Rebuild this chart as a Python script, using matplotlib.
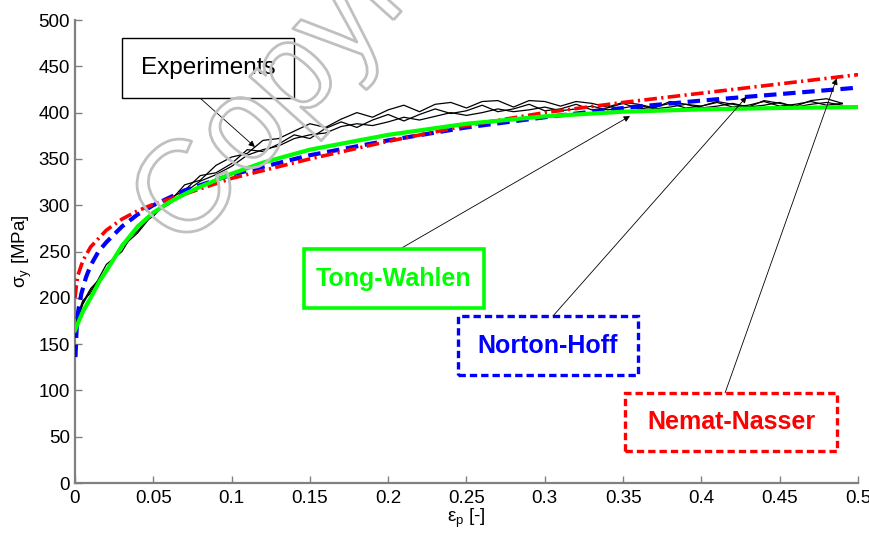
import matplotlib
matplotlib.use("Agg")
import matplotlib.pyplot as plt
from matplotlib.patches import Rectangle
import matplotlib.patheffects as pe
from matplotlib import font_manager

names = {f.name for f in font_manager.fontManager.ttflist}
tick_font = 'Liberation Sans Narrow' if 'Liberation Sans Narrow' in names else 'Liberation Sans'

plt.rcParams['font.family'] = ['Liberation Sans', 'DejaVu Sans']
plt.rcParams['mathtext.fontset'] = 'custom'
plt.rcParams['mathtext.rm'] = tick_font
plt.rcParams['mathtext.it'] = tick_font

# ---------------- data ----------------
exp_x = [0.0, 0.002, 0.005, 0.01, 0.02, 0.03, 0.04, 0.05, 0.06, 0.07, 0.08, 0.09,
         0.10, 0.11, 0.12, 0.13, 0.14, 0.15, 0.16, 0.17, 0.18, 0.19, 0.20, 0.21,
         0.22, 0.23, 0.24, 0.25, 0.26, 0.27, 0.28, 0.29, 0.30, 0.31, 0.32, 0.33,
         0.34, 0.35, 0.36, 0.37, 0.38, 0.39, 0.40, 0.41, 0.42, 0.43, 0.44, 0.45,
         0.46, 0.47, 0.48, 0.49]
exp1 = [168, 180, 195, 210, 228, 258, 272, 293, 303, 322, 327, 343,
        352, 356, 370, 372, 380, 388, 384, 393, 400, 395, 403, 408,
        401, 409, 411, 405, 412, 413, 406, 413, 412, 407, 412, 410,
        406, 411, 409, 405, 412, 409, 407, 412, 409, 406, 413, 410,
        407, 413, 415, 410]
exp2 = [172, 183, 197, 205, 236, 250, 278, 288, 307, 316, 332, 335,
        345, 360, 358, 366, 376, 372, 383, 390, 384, 392, 398, 391,
        398, 404, 399, 402, 408, 401, 404, 409, 402, 404, 409, 403,
        405, 410, 404, 406, 410, 405, 407, 411, 406, 408, 412, 407,
        409, 412, 408, 410]
exp3 = [166, 178, 193, 208, 230, 255, 270, 291, 301, 314, 326, 333,
        342, 354, 360, 364, 372, 376, 378, 385, 388, 386, 390, 395,
        392, 396, 400, 397, 400, 404, 401, 403, 406, 402, 404, 407,
        403, 405, 408, 404, 406, 409, 405, 407, 410, 406, 408, 411,
        406, 409, 411, 408]

tw_x = [0.0, 0.002, 0.005, 0.01, 0.016, 0.02, 0.03, 0.04, 0.05, 0.06, 0.07,
        0.08, 0.10, 0.12, 0.15, 0.20, 0.25, 0.30, 0.35, 0.40, 0.45, 0.50]
tw_y = [165, 173, 185, 200, 219, 229, 256, 277, 292, 303, 312,
        320, 334, 346, 360, 376, 388, 396, 401, 403.5, 405, 406]

nh_x = [0.0003, 0.001, 0.002, 0.004, 0.007, 0.01, 0.015, 0.02, 0.03, 0.04,
        0.05, 0.07, 0.10, 0.15, 0.20, 0.25, 0.30, 0.35, 0.40, 0.45, 0.50]
nh_y = [136, 165, 185, 204, 222, 235, 250, 260, 277, 290,
        300, 316, 333, 354, 370, 384, 395, 405, 413, 420, 427]

nn_x = [0.0, 0.001, 0.002, 0.005, 0.01, 0.02, 0.03, 0.04, 0.05, 0.07, 0.10,
        0.15, 0.20, 0.25, 0.30, 0.35, 0.40, 0.45, 0.50]
nn_y = [200, 215, 225, 240, 255, 273, 285, 294, 301, 312, 329,
        350, 369, 386, 400, 411, 421, 431, 441]

xticks = [0, 0.05, 0.1, 0.15, 0.2, 0.25, 0.3, 0.35, 0.4, 0.45, 0.5]
xtick_labels = ['0', '0.05', '0.1', '0.15', '0.2', '0.25', '0.3', '0.35', '0.4', '0.45', '0.5']
yticks = [0, 50, 100, 150, 200, 250, 300, 350, 400, 450, 500]

# ---------------- figure ----------------
fig = plt.figure(figsize=(8.7, 5.34), dpi=100)
ax = fig.add_axes([0.0862, 0.0955, 0.9, 0.867])

for ey in (exp1, exp2, exp3):
    ax.plot(exp_x, ey, color='black', lw=0.9, zorder=2)

ax.plot(tw_x, tw_y, color='#00ff00', lw=3.0, zorder=4)
ax.plot(nh_x, nh_y, color='#0000ff', lw=3.0, ls=(0, (3, 1.6)), zorder=3)
ax.plot(nn_x, nn_y, color='#ff0000', lw=2.6, ls=(0, (3.5, 1.2, 0.6, 1.2)), zorder=3)

ax.set_xlim(0, 0.5)
ax.set_ylim(0, 500)
ax.set_xticks(xticks)
ax.set_xticklabels(xtick_labels)
ax.set_yticks(yticks)

for s in ('top', 'right'):
    ax.spines[s].set_visible(False)
for s in ('left', 'bottom'):
    ax.spines[s].set_color('#808080')
    ax.spines[s].set_linewidth(1.6)
ax.tick_params(direction='in', length=5, width=1, color='#808080',
               labelsize=13.5, labelcolor='black')
ax.tick_params(axis='x', pad=5)
for lab in ax.get_xticklabels() + ax.get_yticklabels():
    lab.set_family(tick_font)

ax.set_xlabel(r'$\mathregular{\epsilon_p}$ [-]', fontsize=13.5, labelpad=0,
              family=tick_font)
ax.set_ylabel(r'$\mathregular{\sigma_y}$ [MPa]', fontsize=13.5, labelpad=3,
              family=tick_font)

# ---------------- annotation boxes ----------------
def box(x0, x1, y0, y1, text, color, ls, lw, bold, fs):
    r = Rectangle((x0, y0), x1 - x0, y1 - y0, fill=True, facecolor='white',
                  edgecolor=color, lw=lw, ls=ls, zorder=6, clip_on=False)
    ax.add_patch(r)
    ax.text((x0 + x1) / 2, (y0 + y1) / 2, text, color=color, fontsize=fs,
            fontweight='bold' if bold else 'normal', ha='center', va='center',
            zorder=7)

def arrow(xs, ys, xt, yt):
    ax.annotate('', xy=(xt, yt), xytext=(xs, ys),
                arrowprops=dict(arrowstyle='-|>', color='black', lw=0.6,
                                mutation_scale=9, shrinkA=0, shrinkB=0),
                zorder=5)

box(0.0300, 0.1398, 415.8, 480.6, 'Experiments', 'black', '-', 1.0, False, 17.5)
arrow(0.0798, 415.8, 0.1149, 362.9)

box(0.1462, 0.2612, 189.0, 252.7, 'Tong-Wahlen', '#00ff00', '-', 2.6, True, 18)
arrow(0.2075, 252.7, 0.3544, 396.3)

box(0.2446, 0.3595, 116.6, 180.3, 'Norton-Hoff', '#0000ff', (0, (2.2, 1.2)), 2.4, True, 18)
arrow(0.3052, 180.3, 0.4289, 417.2)

box(0.3512, 0.4866, 34.6, 97.2, 'Nemat-Nasser', '#ff0000', (0, (2.2, 1.2)), 2.4, True, 18)
arrow(0.4151, 97.2, 0.4864, 437.0)

# ---------------- watermark ----------------
wm = fig.text(0.211, 0.526, 'Copyright', fontsize=94, rotation=48,
              rotation_mode='anchor', ha='left', va='baseline', zorder=10,
              family='Liberation Sans')
wm.set_color((1, 1, 1, 0))
wm.set_path_effects([pe.withStroke(linewidth=2.0, foreground='#c0c0c0'),
                     pe.Normal()])

fig.savefig('out.png', dpi=100)
